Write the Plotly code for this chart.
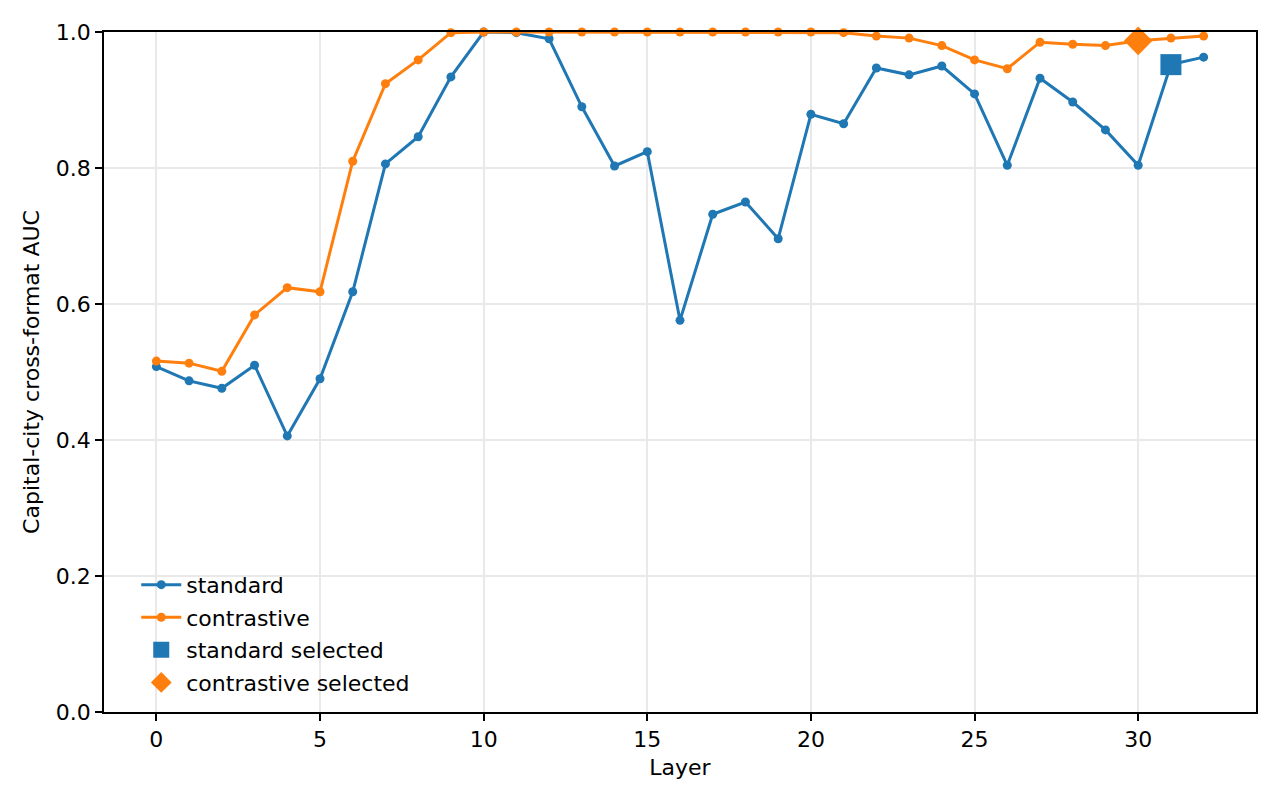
import plotly.graph_objects as go

layers = list(range(33))
standard = [0.508, 0.487, 0.476, 0.510, 0.406, 0.490, 0.618, 0.806, 0.846, 0.934,
            1.000, 0.999, 0.990, 0.890, 0.803, 0.824, 0.576, 0.732, 0.750, 0.696,
            0.879, 0.865, 0.947, 0.937, 0.950, 0.909, 0.804, 0.932, 0.897, 0.856,
            0.804, 0.952, 0.963]
contrastive = [0.516, 0.513, 0.501, 0.584, 0.624, 0.618, 0.810, 0.924, 0.959, 0.999,
               1.000, 1.000, 1.000, 1.000, 1.000, 1.000, 1.000, 1.000, 1.000, 1.000,
               1.000, 0.999, 0.994, 0.991, 0.980, 0.959, 0.946, 0.985, 0.982, 0.980,
               0.987, 0.991, 0.994]
std_sel_layer = 31
con_sel_layer = 30

BLUE = "#1f77b4"
ORANGE = "#ff7f0e"
FONT = "DejaVu Sans"
FS = 22

fig = go.Figure()
fig.add_trace(go.Scatter(x=layers, y=standard, mode="lines+markers", name="standard",
                         legendgroup="a",
                         line=dict(color=BLUE, width=3), marker=dict(size=9, color=BLUE),
                         cliponaxis=False))
fig.add_trace(go.Scatter(x=layers, y=contrastive, mode="lines+markers", name="contrastive",
                         legendgroup="b",
                         line=dict(color=ORANGE, width=3), marker=dict(size=9, color=ORANGE),
                         cliponaxis=False))
fig.add_trace(go.Scatter(x=[std_sel_layer], y=[standard[std_sel_layer]], mode="markers",
                         name="standard selected", legendgroup="c",
                         marker=dict(symbol="square", size=21, color=BLUE), cliponaxis=False))
fig.add_trace(go.Scatter(x=[con_sel_layer], y=[contrastive[con_sel_layer]], mode="markers",
                         name="contrastive selected", legendgroup="d",
                         marker=dict(symbol="diamond", size=22, color=ORANGE), cliponaxis=False))

axis_common = dict(showline=True, linecolor="black", linewidth=1.8, mirror=True,
                   ticks="outside", ticklen=7, tickwidth=1.8, tickcolor="black",
                   showgrid=True, gridcolor="#e9e9e9", gridwidth=1.6,
                   zeroline=False, tickfont=dict(family=FONT, size=FS, color="black"))

fig.update_layout(
    width=1280, height=800,
    margin=dict(l=104, r=24, t=32, b=88),
    paper_bgcolor="white", plot_bgcolor="white",
    font=dict(family=FONT, size=FS, color="black"),
    xaxis=dict(range=[-1.6, 33.6], tickmode="array", tickvals=[0, 5, 10, 15, 20, 25, 30],
               title=dict(text="Layer", font=dict(family=FONT, size=FS), standoff=8),
               **axis_common),
    yaxis=dict(range=[0, 1.0], tickmode="array", tickvals=[0, 0.2, 0.4, 0.6, 0.8, 1.0],
               ticktext=["0.0", "0.2", "0.4", "0.6", "0.8", "1.0"],
               title=dict(text="Capital-city cross-format AUC", font=dict(family=FONT, size=FS), standoff=10),
               **axis_common),
    legend=dict(x=0.028, y=0.012, xanchor="left", yanchor="bottom",
                bgcolor="rgba(0,0,0,0)", font=dict(family=FONT, size=FS),
                itemwidth=40, tracegroupgap=1, traceorder="grouped"),
    showlegend=True,
)

fig.write_html("out.html")
